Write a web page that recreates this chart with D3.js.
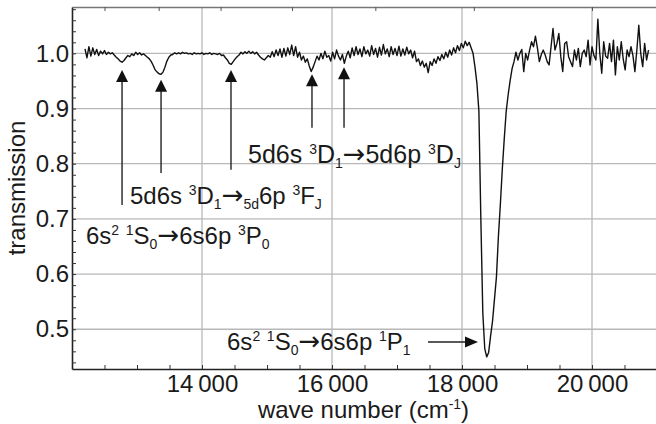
<!DOCTYPE html>
<html><head><meta charset="utf-8">
<script src="https://cdn.jsdelivr.net/npm/d3@7"></script>
<style>
body{margin:0;background:#fff}
svg{display:block}
text{font-family:"Liberation Sans",Arial,Helvetica,sans-serif;fill:#1a1a1a;white-space:pre}
</style>
</head><body>
<svg id="chart" width="656" height="424"></svg>
<script>
// ---- data ----
const wnStart = 12200;   // first sample (cm^-1)
const wnStep = 30;       // sample spacing (cm^-1)
const transmission = [
1.008,0.992,1.012,0.995,1.010,0.998,1.007,0.996,1.004,0.999,
1.005,0.998,1.002,0.999,1.001,0.997,0.993,0.990,0.986,0.984,
0.987,0.992,0.996,0.994,0.999,0.996,1.002,0.998,1.001,0.997,
0.999,0.996,0.993,0.990,0.985,0.978,0.970,0.966,0.963,0.962,
0.966,0.975,0.986,0.993,0.997,0.998,1.001,0.999,1.001,0.999,
1.002,1.000,1.001,0.999,1.000,0.998,1.001,0.999,1.000,0.999,
1.001,0.998,1.000,0.999,1.001,0.998,1.000,0.999,0.998,1.000,
0.996,0.997,0.992,0.988,0.982,0.980,0.985,0.990,0.994,0.997,
1.002,0.999,1.003,1.000,1.004,1.000,1.003,0.999,1.002,0.997,
0.993,0.990,0.988,0.992,0.996,0.993,1.003,0.994,1.006,0.996,
1.008,0.993,1.009,0.995,1.010,0.998,1.015,0.996,1.012,0.993,
1.002,0.988,0.995,0.984,0.990,0.977,0.967,0.975,0.985,0.995,
0.988,1.000,0.990,1.004,0.993,0.996,0.986,1.002,0.990,1.006,
0.995,0.988,0.998,0.982,0.995,1.004,0.992,1.010,0.996,1.012,
0.998,1.008,0.994,1.012,0.999,1.006,0.995,1.014,0.998,1.009,
0.993,1.011,0.997,1.016,0.999,1.008,0.994,1.012,0.998,1.009,
0.996,1.013,0.995,1.008,0.997,1.011,0.999,1.006,0.992,1.004,
0.985,0.990,0.978,0.986,0.975,0.982,0.965,0.985,0.978,0.990,
0.982,0.994,0.987,0.998,0.990,1.002,0.993,1.006,0.997,1.010,
1.001,1.014,1.005,1.018,1.010,1.022,1.014,1.020,1.010,1.000,
0.975,0.945,0.895,0.700,0.530,0.465,0.450,0.458,0.488,0.515,
0.555,0.595,0.668,0.726,0.790,0.845,0.895,0.925,0.950,0.972,
0.985,1.002,0.988,1.000,1.007,0.967,1.000,0.988,1.006,1.021,
1.012,1.031,1.010,0.985,0.998,1.006,0.997,0.985,0.979,1.012,
1.045,1.006,1.018,1.036,0.994,0.967,1.018,1.021,0.994,0.985,
0.976,1.006,0.988,1.009,0.976,1.000,1.006,0.994,1.024,0.979,
1.012,0.996,0.988,1.062,1.000,0.964,1.021,0.995,0.991,1.018,
0.985,1.024,0.961,1.012,0.988,1.021,0.990,0.970,1.006,0.994,
1.012,0.996,0.967,1.006,1.051,1.000,0.976,1.018,0.988,1.006
];
const xTickValues = [14000, 16000, 18000, 20000];
const xTickLabels = ["14\u2009000", "16\u2009000", "18\u2009000", "20\u2009000"];
const yTickValues = [0.5, 0.6, 0.7, 0.8, 0.9, 1.0];
const yTickLabels = ["0.5", "0.6", "0.7", "0.8", "0.9", "1.0"];
const wavelengthTicksNm = [800, 750, 700, 650, 600, 550, 500];

// vertical arrows: wave number, tail and tip transmission
const arrowWn   = [12770, 13370, 14446, 15692, 16185];
const arrowTail = [0.725, 0.783, 0.789, 0.865, 0.865];
const arrowTip  = [0.970, 0.952, 0.970, 0.962, 0.975];
// horizontal arrow to the main line
const hArrow = {wnFrom: 17477, wnTo: 18246, t: 0.477};

// transition labels (anchor in data coords)
const labels = [
  {wn: 14708, t: 0.801, size: 25, parts: [["5d6s "],["3","sup"],["D"],["1","sub"],["\u2192","arr"],["5d6p "],["3","sup"],["D"],["J","sub"]]},
  {wn: 12892, t: 0.727, size: 24, parts: [["5d6s "],["3","sup"],["D"],["1","sub"],["\u2192","arr"],["5d","sub"],["6p "],["3","sup"],["F"],["J","sub"]]},
  {wn: 12215, t: 0.6545, size: 24, parts: [["6s"],["2","sup"],[" "],["1","sup"],["S"],["0","sub"],["\u2192","arr"],["6s6p "],["3","sup"],["P"],["0","sub"]]},
  {wn: 14385, t: 0.4625, size: 24, parts: [["6s"],["2","sup"],[" "],["1","sup"],["S"],["0","sub"],["\u2192","arr"],["6s6p "],["1","sup"],["P"],["1","sub"]]}
];

// ---- drawing ----
const svg = d3.select("#chart");
const L = 72, R = 657, T = 7, B = 369;
const x = d3.scaleLinear().domain([12000, 21000]).range([L, R]);
const y = d3.scaleLinear().domain([0.428, 1.084]).range([B, T]);
const data = transmission.map((v, i) => ({wn: wnStart + i * wnStep, t: v}));

svg.append("defs").append("clipPath").attr("id", "clip")
  .append("rect").attr("x", L).attr("y", T).attr("width", R - L).attr("height", B - T);

// gridlines
const grid = svg.append("g").attr("stroke", "#b8b8b8").attr("stroke-width", 1.3);
grid.selectAll("line.v").data(xTickValues).join("line")
  .attr("x1", d => x(d)).attr("x2", d => x(d)).attr("y1", T).attr("y2", B);
grid.selectAll("line.h").data(yTickValues).join("line")
  .attr("x1", L).attr("x2", R).attr("y1", d => y(d)).attr("y2", d => y(d));

// top axis (wavelength ticks, unlabelled)
const topAxis = svg.append("g").attr("transform", `translate(0,${T})`)
  .call(d3.axisTop(x).tickValues(wavelengthTicksNm.map(nm => 1e7 / nm)).tickSize(-4).tickSizeOuter(0).tickFormat(""));
topAxis.select(".domain").attr("stroke", "#777").attr("stroke-width", 1.3);
topAxis.selectAll(".tick line").attr("stroke", "#555").attr("stroke-width", 1);

// bottom axis
const xMinor = d3.range(12500, 21000, 500);
const bottom = svg.append("g").attr("transform", `translate(0,${B})`)
  .call(d3.axisBottom(x).tickValues(xMinor).tickSize(-4).tickSizeOuter(0).tickFormat(""));
bottom.select(".domain").attr("stroke", "#222").attr("stroke-width", 1.6);
bottom.selectAll(".tick line").attr("stroke", "#333");
const bottomLab = svg.append("g").attr("transform", `translate(0,${B})`)
  .call(d3.axisBottom(x).tickValues(xTickValues).tickSize(0).tickPadding(5.5)
        .tickFormat((d, i) => xTickLabels[i]));
bottomLab.select(".domain").remove();
bottomLab.selectAll("text").attr("font-size", 24).attr("font-family", null).attr("fill", "#1a1a1a");

// left axis
const yMinor = d3.range(0.44, 1.084, 0.02);
const left = svg.append("g").attr("transform", `translate(${L},0)`)
  .call(d3.axisLeft(y).tickValues(yMinor).tickSize(-4).tickSizeOuter(0).tickFormat(""));
left.select(".domain").attr("stroke", "#222").attr("stroke-width", 1.6);
left.selectAll(".tick line").attr("stroke", "#333");
const leftLab = svg.append("g").attr("transform", `translate(${L},0)`)
  .call(d3.axisLeft(y).tickValues(yTickValues).tickSize(0).tickPadding(3)
        .tickFormat((d, i) => yTickLabels[i]));
leftLab.select(".domain").remove();
leftLab.selectAll("text").attr("font-size", 24).attr("font-family", null).attr("fill", "#1a1a1a");

// axis titles
svg.append("text").attr("x", (L + R) / 2 - 1).attr("y", 417.5).attr("text-anchor", "middle")
  .attr("font-size", 24)
  .call(t => { t.append("tspan").text("wave number (cm");
               t.append("tspan").attr("dy", -9).attr("font-size", 14).text("-1");
               t.append("tspan").attr("dy", 9).text(")"); });
svg.append("text").attr("transform", `translate(25,${(T + B) / 2}) rotate(-90)`)
  .attr("text-anchor", "middle").attr("font-size", 24).text("transmission");

// spectrum
svg.append("path").datum(data).attr("clip-path", "url(#clip)")
  .attr("fill", "none").attr("stroke", "#111").attr("stroke-width", 1.4)
  .attr("stroke-linejoin", "round")
  .attr("d", d3.line().x(d => x(d.wn)).y(d => y(d.t)));

// vertical arrows
const ag = svg.append("g").attr("fill", "#111").attr("stroke", "#222");
arrowWn.forEach((wn, i) => {
  const ax = x(wn), yTail = y(arrowTail[i]), yTip = y(arrowTip[i]);
  ag.append("line").attr("x1", ax).attr("x2", ax).attr("y1", yTail).attr("y2", yTip + 10)
    .attr("stroke-width", 1.4);
  ag.append("path").attr("stroke", "none")
    .attr("d", `M${ax},${yTip} L${ax - 6},${yTip + 12} L${ax + 6},${yTip + 12} Z`);
});
// horizontal arrow
{
  const x0 = x(hArrow.wnFrom), x1 = x(hArrow.wnTo), yy = y(hArrow.t);
  ag.append("line").attr("x1", x0).attr("x2", x1 - 10).attr("y1", yy).attr("y2", yy).attr("stroke-width", 1.4);
  ag.append("path").attr("stroke", "none")
    .attr("d", `M${x1},${yy} L${x1 - 13},${yy - 5.5} L${x1 - 13},${yy + 5.5} Z`);
}

// transition labels
labels.forEach(lb => {
  const t = svg.append("text").attr("x", x(lb.wn)).attr("y", y(lb.t)).attr("font-size", lb.size);
  const small = Math.round(lb.size * 0.58);
  let shift = 0;
  lb.parts.forEach(([s, kind]) => {
    const target = kind === "sup" ? -9 : kind === "sub" ? 5 : 0;
    const ts = t.append("tspan").attr("dy", target - shift)
      .attr("font-size", (kind === "sup" || kind === "sub") ? small : lb.size).text(s);
    if (kind === "arr") ts.attr("font-family", "'DejaVu Sans'").attr("font-size", lb.size + 2);
    shift = target;
  });
});
</script>
</body></html>
